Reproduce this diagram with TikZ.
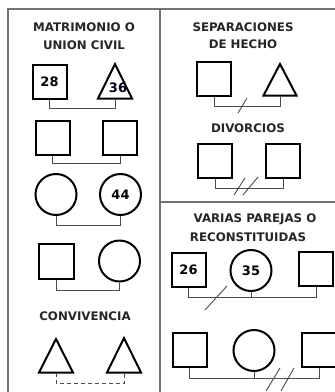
\documentclass[tikz,border=0pt]{standalone}
\usepackage{fontspec}
\setmainfont{DejaVu Sans}
\begin{document}
\begin{tikzpicture}[x=1pt,y=-1pt,
  frame/.style={draw=black!55,line width=1.1pt},
  sq/.style={draw=black,line width=2pt,rectangle,minimum size=34pt,inner sep=0pt,font=\fontsize{13}{13}\selectfont\bfseries},
  circ/.style={draw=black,line width=2pt,circle,minimum size=41pt,inner sep=0pt,font=\fontsize{13}{13}\selectfont\bfseries},
  tri/.style={draw=black,line width=2pt,line join=miter},
  link/.style={draw=black!70,line width=0.9pt},
  slash/.style={draw=black!70,line width=0.9pt},
  title/.style={font=\fontsize{11.8}{12}\selectfont\bfseries,text=black!85,inner sep=0pt},
  num/.style={font=\fontsize{13}{13}\selectfont\bfseries,text=black!90!blue,inner sep=0pt}]
\useasboundingbox (0,0) rectangle (335,392);
\clip (0,0) rectangle (335,392);
\fill[white] (0,0) rectangle (335,392);
% frame
\draw[frame] (8,392) -- (8,9) -- (335,9);
\draw[frame] (160,9) -- (160,392);
\draw[frame] (160,202) -- (335,202);

% ---------- left panel ----------
\node[title] (t1) at (84,27) {MATRIMONIO O};
\node[title] (t2) at (84,45) {UNION CIVIL};
\node[sq] (s28) at (49.5,81.5) {28};
\draw[tri] (115,64) -- (132,98.5) -- (98,98.5) -- cycle;
\coordinate (t36) at (115,98.5);
\node[num] (n36) at (118,88) {36};
\draw[link] (s28.south) -- (49.5,108) -| (t36);

\node[sq] (r2a) at (52.5,137.5) {};
\node[sq] (r2b) at (120,138) {};
\draw[link] (r2a.south) -- (52.5,163) -| (r2b.south);

\node[circ] (c3a) at (56,194.5) {};
\node[circ] (c3b) at (120.5,194.5) {44};
\draw[link] (c3a.south) -- (56,225) -| (c3b.south);

\node[sq,minimum size=35pt] (r4) at (56,261) {};
\node[circ] (c4) at (119.5,261) {};
\draw[link] (r4.south) -- (56,290) -| (c4.south);

\node[title] (t3) at (85,316) {CONVIVENCIA};
\draw[tri] (56,339) -- (73,372.5) -- (39,372.5) -- cycle;
\draw[tri] (124,338) -- (141,372.5) -- (107,372.5) -- cycle;
\coordinate (ta) at (56,372.5);
\coordinate (tb) at (124,372.5);
\draw[link,dashed,dash pattern=on 4pt off 3pt] (ta) -- (56,383) -| (tb);

% ---------- right top ----------
\node[title] (t4) at (243,27) {SEPARACIONES};
\node[title] (t5) at (243,44) {DE HECHO};
\node[sq] (sp) at (214,79) {};
\draw[tri] (280,64) -- (296.5,95.5) -- (263.5,95.5) -- cycle;
\coordinate (tp) at (280,95.5);
\draw[link] (sp.south) -- (214,106) -| (tp);
\coordinate (sl1a) at (238,113);
\coordinate (sl1b) at (247,98);
\draw[slash] (sl1a) -- (sl1b);

\node[title] (t6) at (248,128) {DIVORCIOS};
\node[sq] (da) at (215,161) {};
\node[sq] (db) at (283,161) {};
\draw[link] (da.south) -- (215,188) -| (db.south);
\coordinate (d1a) at (234,195);
\coordinate (d1b) at (245,178);
\coordinate (d2a) at (243,195);
\coordinate (d2b) at (258,177);
\draw[slash] (d1a) -- (d1b);
\draw[slash] (d2a) -- (d2b);

% ---------- right bottom ----------
\node[title] (t7) at (255,219) {VARIAS PAREJAS O};
\node[title] (t8) at (248,237) {RECONSTITUIDAS};
\node[sq] (s26) at (188.5,269.5) {26};
\node[circ] (c35) at (251,270.5) {35};
\node[sq] (sr) at (316,269) {};
\draw[link] (s26.south) -- (188.5,297) -| (sr.south);
\draw[link] (c35.south) -- (251,297);
\coordinate (r1a) at (205,310);
\coordinate (r1b) at (227,286);
\draw[slash] (r1a) -- (r1b);

\node[sq] (bl) at (189.5,350) {};
\node[circ] (bc) at (254,350.5) {};
\node[sq] (br) at (319,350) {};
\draw[link] (bl.south) -- (189.5,378) -| (br.south);
\draw[link] (bc.south) -- (254,378);
\coordinate (b1a) at (266,391);
\coordinate (b1b) at (280,368);
\coordinate (b2a) at (281,391);
\coordinate (b2b) at (294,368);
\draw[slash] (b1a) -- (b1b);
\draw[slash] (b2a) -- (b2b);
\end{tikzpicture}
\end{document}
